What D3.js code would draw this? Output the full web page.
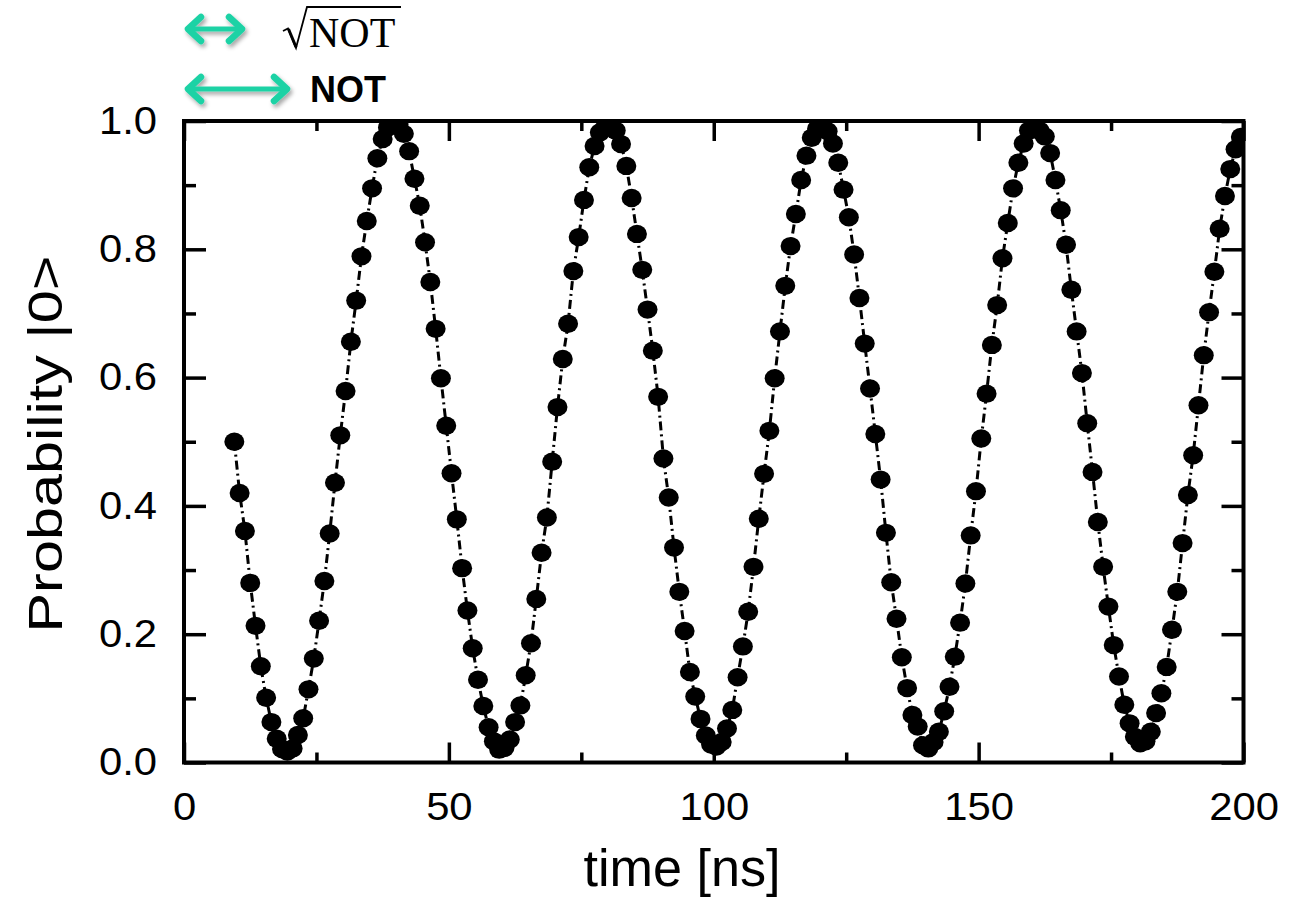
<!DOCTYPE html>
<html>
<head>
<meta charset="utf-8">
<script src="https://cdn.jsdelivr.net/npm/d3@7"></script>
<style>
  html, body { margin: 0; padding: 0; background: #ffffff; }
  svg { display: block; }
</style>
</head>
<body>
<svg id="chart" width="1304" height="906"></svg>
<script>
// ---------- data ----------
const times = [
  9.5, 10.5, 11.5, 12.5, 13.5, 14.5, 15.5, 16.5, 17.5, 18.5,
  19.5, 20.5, 21.5, 22.5, 23.5, 24.5, 25.5, 26.5, 27.5, 28.5,
  29.5, 30.5, 31.5, 32.5, 33.5, 34.5, 35.5, 36.5, 37.5, 38.5,
  39.5, 40.5, 41.5, 42.5, 43.5, 44.5, 45.5, 46.5, 47.5, 48.5,
  49.5, 50.5, 51.5, 52.5, 53.5, 54.5, 55.5, 56.5, 57.5, 58.5,
  59.5, 60.5, 61.5, 62.5, 63.5, 64.5, 65.5, 66.5, 67.5, 68.5,
  69.5, 70.5, 71.5, 72.5, 73.5, 74.5, 75.5, 76.5, 77.5, 78.5,
  79.5, 80.5, 81.5, 82.5, 83.5, 84.5, 85.5, 86.5, 87.5, 88.5,
  89.5, 90.5, 91.5, 92.5, 93.5, 94.5, 95.5, 96.5, 97.5, 98.5,
  99.5, 100.5, 101.5, 102.5, 103.5, 104.5, 105.5, 106.5, 107.5, 108.5,
  109.5, 110.5, 111.5, 112.5, 113.5, 114.5, 115.5, 116.5, 117.5, 118.5,
  119.5, 120.5, 121.5, 122.5, 123.5, 124.5, 125.5, 126.5, 127.5, 128.5,
  129.5, 130.5, 131.5, 132.5, 133.5, 134.5, 135.5, 136.5, 137.5, 138.5,
  139.5, 140.5, 141.5, 142.5, 143.5, 144.5, 145.5, 146.5, 147.5, 148.5,
  149.5, 150.5, 151.5, 152.5, 153.5, 154.5, 155.5, 156.5, 157.5, 158.5,
  159.5, 160.5, 161.5, 162.5, 163.5, 164.5, 165.5, 166.5, 167.5, 168.5,
  169.5, 170.5, 171.5, 172.5, 173.5, 174.5, 175.5, 176.5, 177.5, 178.5,
  179.5, 180.5, 181.5, 182.5, 183.5, 184.5, 185.5, 186.5, 187.5, 188.5,
  189.5, 190.5, 191.5, 192.5, 193.5, 194.5, 195.5, 196.5, 197.5, 198.5, 199.5
];
const probability = [
  0.500, 0.420, 0.361, 0.280, 0.213, 0.150, 0.101, 0.063, 0.037, 0.021,
  0.017, 0.022, 0.043, 0.069, 0.114, 0.162, 0.221, 0.283, 0.357, 0.436,
  0.510, 0.579, 0.656, 0.720, 0.789, 0.844, 0.895, 0.942, 0.972, 0.990,
  0.996, 0.994, 0.980, 0.953, 0.910, 0.868, 0.811, 0.749, 0.676, 0.599,
  0.525, 0.451, 0.379, 0.303, 0.237, 0.178, 0.129, 0.088, 0.055, 0.033,
  0.020, 0.023, 0.036, 0.063, 0.089, 0.136, 0.186, 0.255, 0.327, 0.382,
  0.469, 0.554, 0.629, 0.684, 0.766, 0.819, 0.877, 0.928, 0.961, 0.982,
  0.990, 0.992, 0.985, 0.964, 0.930, 0.880, 0.824, 0.768, 0.706, 0.642,
  0.570, 0.474, 0.413, 0.335, 0.266, 0.205, 0.141, 0.103, 0.068, 0.042,
  0.028, 0.025, 0.032, 0.053, 0.082, 0.133, 0.181, 0.235, 0.305, 0.380,
  0.450, 0.517, 0.599, 0.672, 0.743, 0.805, 0.855, 0.908, 0.946, 0.974,
  0.988, 0.992, 0.984, 0.965, 0.935, 0.893, 0.850, 0.792, 0.724, 0.653,
  0.583, 0.512, 0.441, 0.358, 0.281, 0.224, 0.164, 0.116, 0.074, 0.056,
  0.027, 0.022, 0.032, 0.048, 0.080, 0.118, 0.165, 0.218, 0.279, 0.354,
  0.423, 0.505, 0.575, 0.651, 0.713, 0.786, 0.841, 0.895, 0.935, 0.965,
  0.985, 0.990, 0.985, 0.976, 0.950, 0.908, 0.861, 0.807, 0.737, 0.672,
  0.607, 0.529, 0.453, 0.375, 0.305, 0.243, 0.183, 0.134, 0.090, 0.061,
  0.040, 0.030, 0.033, 0.048, 0.077, 0.108, 0.149, 0.207, 0.266, 0.342,
  0.417, 0.479, 0.557, 0.635, 0.702, 0.765, 0.832, 0.883, 0.925, 0.956, 0.975
];
const xMajorTicks = [0, 50, 100, 150, 200];
const xMinorTicks = [25, 75, 125, 175];
const yMajorTicks = [0.0, 0.2, 0.4, 0.6, 0.8, 1.0];
const yMinorTicks = [0.1, 0.3, 0.5, 0.7, 0.9];
const xTickLabels = ["0", "50", "100", "150", "200"];
const yTickLabels = ["0.0", "0.2", "0.4", "0.6", "0.8", "1.0"];
const xTitle = "time [ns]";
const yTitle = "Probability |0>";
const legendLabels = ["NOT", "NOT"];   // first drawn under a square-root sign

// ---------- layout ----------
const plot = { left: 184, right: 1243.5, top: 121, bottom: 762.5 };
const svg = d3.select("#chart");
const x = d3.scaleLinear().domain([0, 200]).range([plot.left, plot.right]);
const y = d3.scaleLinear().domain([0, 1]).range([plot.bottom, plot.top]);

const defs = svg.append("defs");
defs.append("clipPath").attr("id", "plotclip")
  .append("rect")
  .attr("x", plot.left).attr("y", plot.top)
  .attr("width", plot.right - plot.left).attr("height", plot.bottom - plot.top);
const shadow = defs.append("filter").attr("id", "soft")
  .attr("x", "-20%").attr("y", "-50%").attr("width", "140%").attr("height", "200%");
shadow.append("feDropShadow").attr("dx", 2).attr("dy", 3)
  .attr("stdDeviation", 2).attr("flood-color", "#000").attr("flood-opacity", 0.35);

const data = times.map((t, i) => ({ t, p: probability[i] }));

// ---------- data marks ----------
const g = svg.append("g").attr("clip-path", "url(#plotclip)");
g.append("path")
  .datum(data)
  .attr("fill", "none")
  .attr("stroke", "#000")
  .attr("stroke-width", 3)
  .attr("stroke-dasharray", "9,4,2,4")
  .attr("d", d3.line().x(d => x(d.t)).y(d => y(d.p)));

g.selectAll("ellipse.pt")
  .data(data)
  .join("ellipse")
  .attr("class", "pt")
  .attr("cx", d => x(d.t))
  .attr("cy", d => y(d.p))
  .attr("rx", 10)
  .attr("ry", 9.2)
  .attr("fill", "#000");

// ---------- axes / frame ----------
const axisColor = "#000";
svg.append("g").attr("transform", `translate(0,${plot.bottom})`)
  .call(d3.axisBottom(x).tickValues(xMajorTicks).tickSize(-20).tickPadding(31)
    .tickFormat((d, i) => xTickLabels[i]));
svg.append("g").attr("transform", `translate(0,${plot.top})`)
  .call(d3.axisTop(x).tickValues(xMajorTicks).tickSize(-20).tickFormat(""));
svg.append("g").attr("transform", `translate(${plot.left},0)`)
  .call(d3.axisLeft(y).tickValues(yMajorTicks).tickSize(-22).tickPadding(27)
    .tickFormat((d, i) => yTickLabels[i]));
svg.append("g").attr("transform", `translate(${plot.right},0)`)
  .call(d3.axisRight(y).tickValues(yMajorTicks).tickSize(-22).tickFormat(""));

// minor ticks
svg.append("g").attr("transform", `translate(0,${plot.bottom})`)
  .call(d3.axisBottom(x).tickValues(xMinorTicks).tickSize(-10).tickFormat(""));
svg.append("g").attr("transform", `translate(0,${plot.top})`)
  .call(d3.axisTop(x).tickValues(xMinorTicks).tickSize(-10).tickFormat(""));
svg.append("g").attr("transform", `translate(${plot.left},0)`)
  .call(d3.axisLeft(y).tickValues(yMinorTicks).tickSize(-12).tickFormat(""));
svg.append("g").attr("transform", `translate(${plot.right},0)`)
  .call(d3.axisRight(y).tickValues(yMinorTicks).tickSize(-12).tickFormat(""));

svg.selectAll(".domain").remove();
svg.selectAll(".tick line").attr("stroke", axisColor).attr("stroke-width", 3.5);
svg.selectAll(".tick text")
  .attr("fill", "#000")
  .style("font-family", "'Liberation Sans', Arial, sans-serif")
  .style("font-size", "38px")
  .each(function () {
    const w = this.getComputedTextLength();
    if (w > 0) d3.select(this).attr("textLength", w * 1.1).attr("lengthAdjust", "spacingAndGlyphs");
  });

svg.append("rect")
  .attr("x", plot.left).attr("y", plot.top)
  .attr("width", plot.right - plot.left).attr("height", plot.bottom - plot.top)
  .attr("fill", "none").attr("stroke", "#000").attr("stroke-width", 4);

// ---------- titles ----------
svg.append("text")
  .attr("x", 682)
  .attr("y", 886)
  .attr("text-anchor", "middle")
  .attr("textLength", 197)
  .attr("lengthAdjust", "spacingAndGlyphs")
  .style("font-family", "'Liberation Sans', Arial, sans-serif")
  .style("font-size", "51px")
  .attr("fill", "#000")
  .text(xTitle);

svg.append("text")
  .attr("transform", "translate(62,444) rotate(-90)")
  .attr("text-anchor", "middle")
  .attr("textLength", 377)
  .attr("lengthAdjust", "spacingAndGlyphs")
  .style("font-family", "'Liberation Sans', Arial, sans-serif")
  .style("font-size", "49px")
  .attr("fill", "#000")
  .text(yTitle);

// ---------- legend (teal double arrows) ----------
const teal = "#1fd2a5";
function doubleArrow(x0, x1, yc) {
  const a = svg.append("g").attr("filter", "url(#soft)")
    .attr("stroke", teal).attr("fill", "none")
    .attr("stroke-linecap", "round").attr("stroke-linejoin", "round");
  a.append("line").attr("x1", x0 + 3).attr("x2", x1 - 3).attr("y1", yc).attr("y2", yc)
    .attr("stroke-width", 5);
  a.append("path").attr("stroke-width", 6.5)
    .attr("d", `M${x0 + 16},${yc - 12} L${x0 + 3},${yc} L${x0 + 16},${yc + 12}`);
  a.append("path").attr("stroke-width", 6.5)
    .attr("d", `M${x1 - 16},${yc - 12} L${x1 - 3},${yc} L${x1 - 16},${yc + 12}`);
}
doubleArrow(185, 245, 29);
doubleArrow(185, 290, 89);

// square-root sign
svg.append("path")
  .attr("d", "M283,31 L288,28.5 L296,48 L307,7 L401,7")
  .attr("fill", "none").attr("stroke", "#000").attr("stroke-width", 1.8)
  .attr("stroke-linejoin", "miter");
svg.append("path")
  .attr("d", "M288.5,29 L296,47")
  .attr("fill", "none").attr("stroke", "#000").attr("stroke-width", 3);

svg.append("text")
  .attr("x", 309).attr("y", 47)
  .style("font-family", "'Liberation Serif', 'Times New Roman', serif")
  .style("font-size", "42px")
  .attr("fill", "#000")
  .text(legendLabels[0]);

svg.append("text")
  .attr("x", 310).attr("y", 102)
  .style("font-family", "'Liberation Sans', Arial, sans-serif")
  .style("font-size", "36px")
  .style("font-weight", "bold")
  .attr("fill", "#000")
  .text(legendLabels[1]);
</script>
</body>
</html>
